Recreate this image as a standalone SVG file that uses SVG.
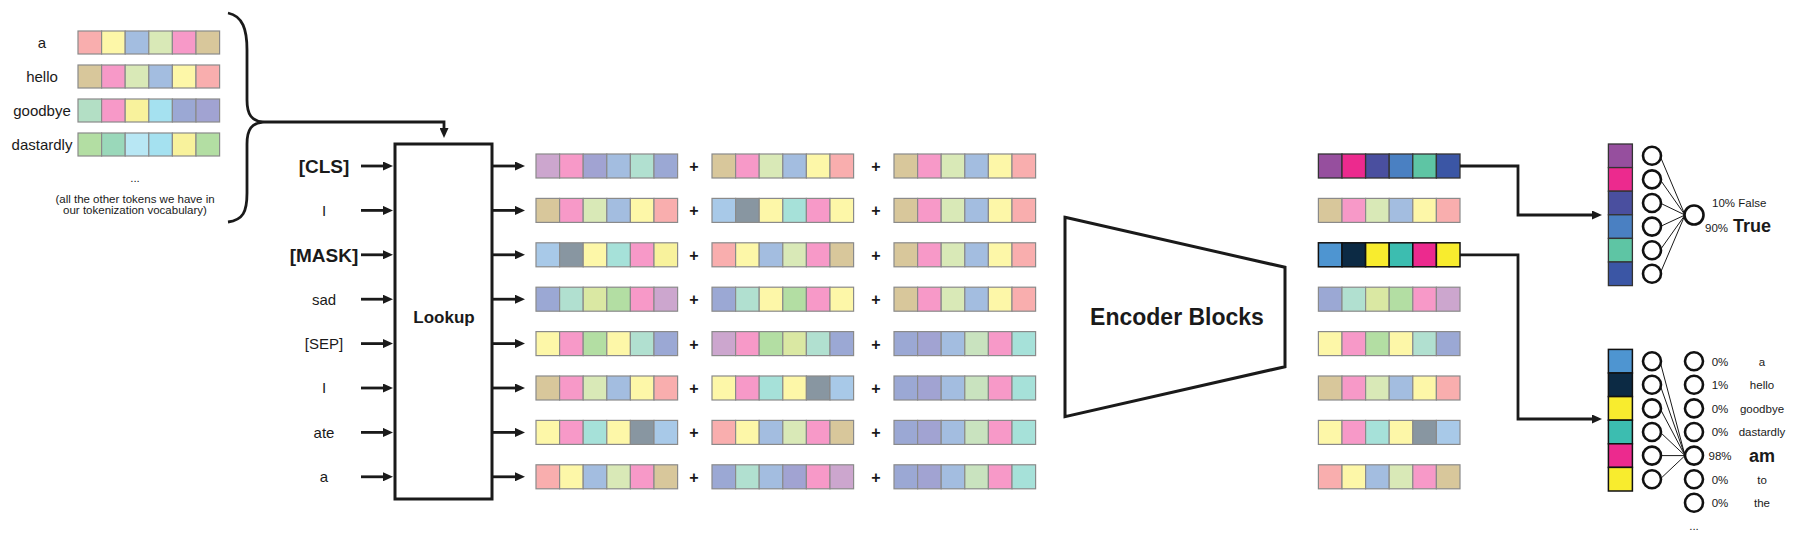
<svg xmlns="http://www.w3.org/2000/svg" width="1800" height="535" viewBox="0 0 1800 535">
<style>
text{font-family:"Liberation Sans",Arial,sans-serif;fill:#1a1a1a}
.lbl{font-size:15px;text-anchor:middle}
.big{font-size:19px;font-weight:bold;text-anchor:middle}
.sm{font-size:11.5px;text-anchor:middle}
.plus{font-size:16px;font-weight:bold;text-anchor:middle}
.cell rect{stroke:#8a8a8a;stroke-width:1.2}
.dark rect{stroke:#333;stroke-width:1.3}
.blk rect{stroke:#111;stroke-width:1.5}
.sal{fill:#f9aeae}.yel{fill:#fdf7a8}.blu{fill:#a3bde0}.lgr{fill:#d9e9b7}.pnk{fill:#f799c8}.tan{fill:#d8c79b}
.lav{fill:#cca6ce}.per{fill:#a1a3d2}.pe2{fill:#9ba8d4}.mnt{fill:#b1e0d0}.tea{fill:#a6e1d9}.sky{fill:#a8c9e8}
.sla{fill:#8896a1}.grn{fill:#b3dea3}.ygr{fill:#dae8a3}.y2{fill:#f8f29c}.cyn{fill:#a5e1f0}.lcy{fill:#b8e7f4}
.sea{fill:#9ad8ba}.mgr{fill:#b3dfc5}.lg2{fill:#c9e3bf}
.pur{fill:#964f9e}.mag{fill:#ec2a8e}.ind{fill:#4a4f9f}.bl2{fill:#4a80c2}.gr2{fill:#5ec5a4}.nav{fill:#3b56a5}
.bl3{fill:#4e95d1}.dnv{fill:#0c2a44}.ybr{fill:#f8ec2e}.tl2{fill:#3cbdb0}
.conn{fill:none;stroke:#1a1a1a;stroke-width:2.8}
.thin{fill:none;stroke:#1a1a1a;stroke-width:1}
.circ{fill:#fff;stroke:#111;stroke-width:2.6}
.box{fill:#fff;stroke:#1a1a1a;stroke-width:3}
</style>
<defs>
<marker id="ah" viewBox="0 0 10 9" refX="4" refY="4.5" markerWidth="10" markerHeight="9" markerUnits="userSpaceOnUse" orient="auto">
<path d="M0,0 L10,4.5 L0,9 z" fill="#1a1a1a"/>
</marker>
</defs>

<!-- vocabulary table -->
<g id="vocab">
<text class="lbl" x="42" y="48">a</text>
<text class="lbl" x="42" y="82">hello</text>
<text class="lbl" x="42" y="116">goodbye</text>
<text class="lbl" x="42" y="150">dastardly</text>
<g class="cell" transform="translate(78,31)"><rect class="sal" x="0" width="23.6" height="23"/><rect class="yel" x="23.6" width="23.6" height="23"/><rect class="blu" x="47.2" width="23.6" height="23"/><rect class="lgr" x="70.8" width="23.6" height="23"/><rect class="pnk" x="94.4" width="23.6" height="23"/><rect class="tan" x="118" width="23.6" height="23"/></g>
<g class="cell" transform="translate(78,65)"><rect class="tan" x="0" width="23.6" height="23"/><rect class="pnk" x="23.6" width="23.6" height="23"/><rect class="lgr" x="47.2" width="23.6" height="23"/><rect class="blu" x="70.8" width="23.6" height="23"/><rect class="yel" x="94.4" width="23.6" height="23"/><rect class="sal" x="118" width="23.6" height="23"/></g>
<g class="cell" transform="translate(78,99)"><rect class="mgr" x="0" width="23.6" height="23"/><rect class="pnk" x="23.6" width="23.6" height="23"/><rect class="y2" x="47.2" width="23.6" height="23"/><rect class="cyn" x="70.8" width="23.6" height="23"/><rect class="pe2" x="94.4" width="23.6" height="23"/><rect class="per" x="118" width="23.6" height="23"/></g>
<g class="cell" transform="translate(78,133)"><rect class="grn" x="0" width="23.6" height="23"/><rect class="sea" x="23.6" width="23.6" height="23"/><rect class="lcy" x="47.2" width="23.6" height="23"/><rect class="cyn" x="70.8" width="23.6" height="23"/><rect class="y2" x="94.4" width="23.6" height="23"/><rect class="grn" x="118" width="23.6" height="23"/></g>
<text class="sm" x="135" y="182">...</text>
<text class="sm" x="135" y="203">(all the other tokens we have in</text>
<text class="sm" x="135" y="214">our tokenization vocabulary)</text>
</g>

<!-- input tokens -->
<g id="tokens">
<text class="big" x="324" y="173">[CLS]</text>
<text class="lbl" x="324" y="216">I</text>
<text class="big" x="324" y="262">[MASK]</text>
<text class="lbl" x="324" y="305">sad</text>
<text class="lbl" x="324" y="349">[SEP]</text>
<text class="lbl" x="324" y="393">I</text>
<text class="lbl" x="324" y="438">ate</text>
<text class="lbl" x="324" y="482">a</text>
</g>

<g id="lookup">
<rect class="box" x="395" y="144" width="97" height="355"/>
<text x="444" y="323" style="font-size:17px;font-weight:bold;text-anchor:middle">Lookup</text>
</g>

<!-- token embeddings -->
<g id="token-emb">
<g class="cell" transform="translate(536,154)"><rect class="lav" x="0" width="23.6" height="24"/><rect class="pnk" x="23.6" width="23.6" height="24"/><rect class="per" x="47.2" width="23.6" height="24"/><rect class="blu" x="70.8" width="23.6" height="24"/><rect class="mnt" x="94.4" width="23.6" height="24"/><rect class="pe2" x="118" width="23.6" height="24"/></g>
<g class="cell" transform="translate(536,198.4)"><rect class="tan" x="0" width="23.6" height="24"/><rect class="pnk" x="23.6" width="23.6" height="24"/><rect class="lgr" x="47.2" width="23.6" height="24"/><rect class="blu" x="70.8" width="23.6" height="24"/><rect class="yel" x="94.4" width="23.6" height="24"/><rect class="sal" x="118" width="23.6" height="24"/></g>
<g class="cell" transform="translate(536,242.8)"><rect class="sky" x="0" width="23.6" height="24"/><rect class="sla" x="23.6" width="23.6" height="24"/><rect class="yel" x="47.2" width="23.6" height="24"/><rect class="tea" x="70.8" width="23.6" height="24"/><rect class="pnk" x="94.4" width="23.6" height="24"/><rect class="y2" x="118" width="23.6" height="24"/></g>
<g class="cell" transform="translate(536,287.2)"><rect class="pe2" x="0" width="23.6" height="24"/><rect class="mnt" x="23.6" width="23.6" height="24"/><rect class="ygr" x="47.2" width="23.6" height="24"/><rect class="grn" x="70.8" width="23.6" height="24"/><rect class="pnk" x="94.4" width="23.6" height="24"/><rect class="lav" x="118" width="23.6" height="24"/></g>
<g class="cell" transform="translate(536,331.6)"><rect class="yel" x="0" width="23.6" height="24"/><rect class="pnk" x="23.6" width="23.6" height="24"/><rect class="grn" x="47.2" width="23.6" height="24"/><rect class="yel" x="70.8" width="23.6" height="24"/><rect class="mnt" x="94.4" width="23.6" height="24"/><rect class="pe2" x="118" width="23.6" height="24"/></g>
<g class="cell" transform="translate(536,376)"><rect class="tan" x="0" width="23.6" height="24"/><rect class="pnk" x="23.6" width="23.6" height="24"/><rect class="lgr" x="47.2" width="23.6" height="24"/><rect class="blu" x="70.8" width="23.6" height="24"/><rect class="yel" x="94.4" width="23.6" height="24"/><rect class="sal" x="118" width="23.6" height="24"/></g>
<g class="cell" transform="translate(536,420.4)"><rect class="yel" x="0" width="23.6" height="24"/><rect class="pnk" x="23.6" width="23.6" height="24"/><rect class="tea" x="47.2" width="23.6" height="24"/><rect class="yel" x="70.8" width="23.6" height="24"/><rect class="sla" x="94.4" width="23.6" height="24"/><rect class="sky" x="118" width="23.6" height="24"/></g>
<g class="cell" transform="translate(536,464.8)"><rect class="sal" x="0" width="23.6" height="24"/><rect class="yel" x="23.6" width="23.6" height="24"/><rect class="blu" x="47.2" width="23.6" height="24"/><rect class="lgr" x="70.8" width="23.6" height="24"/><rect class="pnk" x="94.4" width="23.6" height="24"/><rect class="tan" x="118" width="23.6" height="24"/></g>
</g>

<g id="plus-signs">
<text class="plus" x="694" y="172">+</text><text class="plus" x="876" y="172">+</text>
<text class="plus" x="694" y="216.4">+</text><text class="plus" x="876" y="216.4">+</text>
<text class="plus" x="694" y="260.8">+</text><text class="plus" x="876" y="260.8">+</text>
<text class="plus" x="694" y="305.2">+</text><text class="plus" x="876" y="305.2">+</text>
<text class="plus" x="694" y="349.6">+</text><text class="plus" x="876" y="349.6">+</text>
<text class="plus" x="694" y="394">+</text><text class="plus" x="876" y="394">+</text>
<text class="plus" x="694" y="438.4">+</text><text class="plus" x="876" y="438.4">+</text>
<text class="plus" x="694" y="482.8">+</text><text class="plus" x="876" y="482.8">+</text>
</g>

<!-- position embeddings -->
<g id="position-emb">
<g class="cell" transform="translate(712,154)"><rect class="tan" x="0" width="23.6" height="24"/><rect class="pnk" x="23.6" width="23.6" height="24"/><rect class="lgr" x="47.2" width="23.6" height="24"/><rect class="blu" x="70.8" width="23.6" height="24"/><rect class="yel" x="94.4" width="23.6" height="24"/><rect class="sal" x="118" width="23.6" height="24"/></g>
<g class="cell" transform="translate(712,198.4)"><rect class="sky" x="0" width="23.6" height="24"/><rect class="sla" x="23.6" width="23.6" height="24"/><rect class="yel" x="47.2" width="23.6" height="24"/><rect class="tea" x="70.8" width="23.6" height="24"/><rect class="pnk" x="94.4" width="23.6" height="24"/><rect class="yel" x="118" width="23.6" height="24"/></g>
<g class="cell" transform="translate(712,242.8)"><rect class="sal" x="0" width="23.6" height="24"/><rect class="yel" x="23.6" width="23.6" height="24"/><rect class="blu" x="47.2" width="23.6" height="24"/><rect class="lgr" x="70.8" width="23.6" height="24"/><rect class="pnk" x="94.4" width="23.6" height="24"/><rect class="tan" x="118" width="23.6" height="24"/></g>
<g class="cell" transform="translate(712,287.2)"><rect class="pe2" x="0" width="23.6" height="24"/><rect class="mnt" x="23.6" width="23.6" height="24"/><rect class="yel" x="47.2" width="23.6" height="24"/><rect class="grn" x="70.8" width="23.6" height="24"/><rect class="pnk" x="94.4" width="23.6" height="24"/><rect class="yel" x="118" width="23.6" height="24"/></g>
<g class="cell" transform="translate(712,331.6)"><rect class="lav" x="0" width="23.6" height="24"/><rect class="pnk" x="23.6" width="23.6" height="24"/><rect class="grn" x="47.2" width="23.6" height="24"/><rect class="ygr" x="70.8" width="23.6" height="24"/><rect class="mnt" x="94.4" width="23.6" height="24"/><rect class="pe2" x="118" width="23.6" height="24"/></g>
<g class="cell" transform="translate(712,376)"><rect class="yel" x="0" width="23.6" height="24"/><rect class="pnk" x="23.6" width="23.6" height="24"/><rect class="tea" x="47.2" width="23.6" height="24"/><rect class="yel" x="70.8" width="23.6" height="24"/><rect class="sla" x="94.4" width="23.6" height="24"/><rect class="sky" x="118" width="23.6" height="24"/></g>
<g class="cell" transform="translate(712,420.4)"><rect class="sal" x="0" width="23.6" height="24"/><rect class="yel" x="23.6" width="23.6" height="24"/><rect class="blu" x="47.2" width="23.6" height="24"/><rect class="lgr" x="70.8" width="23.6" height="24"/><rect class="pnk" x="94.4" width="23.6" height="24"/><rect class="tan" x="118" width="23.6" height="24"/></g>
<g class="cell" transform="translate(712,464.8)"><rect class="pe2" x="0" width="23.6" height="24"/><rect class="mnt" x="23.6" width="23.6" height="24"/><rect class="blu" x="47.2" width="23.6" height="24"/><rect class="per" x="70.8" width="23.6" height="24"/><rect class="pnk" x="94.4" width="23.6" height="24"/><rect class="lav" x="118" width="23.6" height="24"/></g>
</g>

<!-- segment embeddings -->
<g id="segment-emb">
<g class="cell" transform="translate(894,154)"><rect class="tan" x="0" width="23.6" height="24"/><rect class="pnk" x="23.6" width="23.6" height="24"/><rect class="lgr" x="47.2" width="23.6" height="24"/><rect class="blu" x="70.8" width="23.6" height="24"/><rect class="yel" x="94.4" width="23.6" height="24"/><rect class="sal" x="118" width="23.6" height="24"/></g>
<g class="cell" transform="translate(894,198.4)"><rect class="tan" x="0" width="23.6" height="24"/><rect class="pnk" x="23.6" width="23.6" height="24"/><rect class="lgr" x="47.2" width="23.6" height="24"/><rect class="blu" x="70.8" width="23.6" height="24"/><rect class="yel" x="94.4" width="23.6" height="24"/><rect class="sal" x="118" width="23.6" height="24"/></g>
<g class="cell" transform="translate(894,242.8)"><rect class="tan" x="0" width="23.6" height="24"/><rect class="pnk" x="23.6" width="23.6" height="24"/><rect class="lgr" x="47.2" width="23.6" height="24"/><rect class="blu" x="70.8" width="23.6" height="24"/><rect class="yel" x="94.4" width="23.6" height="24"/><rect class="sal" x="118" width="23.6" height="24"/></g>
<g class="cell" transform="translate(894,287.2)"><rect class="tan" x="0" width="23.6" height="24"/><rect class="pnk" x="23.6" width="23.6" height="24"/><rect class="lgr" x="47.2" width="23.6" height="24"/><rect class="blu" x="70.8" width="23.6" height="24"/><rect class="yel" x="94.4" width="23.6" height="24"/><rect class="sal" x="118" width="23.6" height="24"/></g>
<g class="cell" transform="translate(894,331.6)"><rect class="pe2" x="0" width="23.6" height="24"/><rect class="per" x="23.6" width="23.6" height="24"/><rect class="blu" x="47.2" width="23.6" height="24"/><rect class="lg2" x="70.8" width="23.6" height="24"/><rect class="pnk" x="94.4" width="23.6" height="24"/><rect class="tea" x="118" width="23.6" height="24"/></g>
<g class="cell" transform="translate(894,376)"><rect class="pe2" x="0" width="23.6" height="24"/><rect class="per" x="23.6" width="23.6" height="24"/><rect class="blu" x="47.2" width="23.6" height="24"/><rect class="lg2" x="70.8" width="23.6" height="24"/><rect class="pnk" x="94.4" width="23.6" height="24"/><rect class="tea" x="118" width="23.6" height="24"/></g>
<g class="cell" transform="translate(894,420.4)"><rect class="pe2" x="0" width="23.6" height="24"/><rect class="per" x="23.6" width="23.6" height="24"/><rect class="blu" x="47.2" width="23.6" height="24"/><rect class="lg2" x="70.8" width="23.6" height="24"/><rect class="pnk" x="94.4" width="23.6" height="24"/><rect class="tea" x="118" width="23.6" height="24"/></g>
<g class="cell" transform="translate(894,464.8)"><rect class="pe2" x="0" width="23.6" height="24"/><rect class="per" x="23.6" width="23.6" height="24"/><rect class="blu" x="47.2" width="23.6" height="24"/><rect class="lg2" x="70.8" width="23.6" height="24"/><rect class="pnk" x="94.4" width="23.6" height="24"/><rect class="tea" x="118" width="23.6" height="24"/></g>
</g>

<g id="encoder">
<path class="box" d="M1065,217.3 L1285,267.3 L1285,366.7 L1065,416.7 Z"/>
<text x="1177" y="325" style="font-size:23px;font-weight:bold;text-anchor:middle">Encoder Blocks</text>
</g>

<!-- outputs -->
<g id="outputs">
<g class="dark" transform="translate(1318.4,154)"><rect class="pur" x="0" width="23.6" height="24"/><rect class="mag" x="23.6" width="23.6" height="24"/><rect class="ind" x="47.2" width="23.6" height="24"/><rect class="bl2" x="70.8" width="23.6" height="24"/><rect class="gr2" x="94.4" width="23.6" height="24"/><rect class="nav" x="118" width="23.6" height="24"/></g>
<g class="cell" transform="translate(1318.4,198.4)"><rect class="tan" x="0" width="23.6" height="24"/><rect class="pnk" x="23.6" width="23.6" height="24"/><rect class="lgr" x="47.2" width="23.6" height="24"/><rect class="blu" x="70.8" width="23.6" height="24"/><rect class="yel" x="94.4" width="23.6" height="24"/><rect class="sal" x="118" width="23.6" height="24"/></g>
<g class="blk" transform="translate(1318.4,242.8)"><rect class="bl3" x="0" width="23.6" height="24"/><rect class="dnv" x="23.6" width="23.6" height="24"/><rect class="ybr" x="47.2" width="23.6" height="24"/><rect class="tl2" x="70.8" width="23.6" height="24"/><rect class="mag" x="94.4" width="23.6" height="24"/><rect class="ybr" x="118" width="23.6" height="24"/></g>
<g class="cell" transform="translate(1318.4,287.2)"><rect class="pe2" x="0" width="23.6" height="24"/><rect class="mnt" x="23.6" width="23.6" height="24"/><rect class="ygr" x="47.2" width="23.6" height="24"/><rect class="grn" x="70.8" width="23.6" height="24"/><rect class="pnk" x="94.4" width="23.6" height="24"/><rect class="lav" x="118" width="23.6" height="24"/></g>
<g class="cell" transform="translate(1318.4,331.6)"><rect class="yel" x="0" width="23.6" height="24"/><rect class="pnk" x="23.6" width="23.6" height="24"/><rect class="grn" x="47.2" width="23.6" height="24"/><rect class="yel" x="70.8" width="23.6" height="24"/><rect class="mnt" x="94.4" width="23.6" height="24"/><rect class="pe2" x="118" width="23.6" height="24"/></g>
<g class="cell" transform="translate(1318.4,376)"><rect class="tan" x="0" width="23.6" height="24"/><rect class="pnk" x="23.6" width="23.6" height="24"/><rect class="lgr" x="47.2" width="23.6" height="24"/><rect class="blu" x="70.8" width="23.6" height="24"/><rect class="yel" x="94.4" width="23.6" height="24"/><rect class="sal" x="118" width="23.6" height="24"/></g>
<g class="cell" transform="translate(1318.4,420.4)"><rect class="yel" x="0" width="23.6" height="24"/><rect class="pnk" x="23.6" width="23.6" height="24"/><rect class="tea" x="47.2" width="23.6" height="24"/><rect class="yel" x="70.8" width="23.6" height="24"/><rect class="sla" x="94.4" width="23.6" height="24"/><rect class="sky" x="118" width="23.6" height="24"/></g>
<g class="cell" transform="translate(1318.4,464.8)"><rect class="sal" x="0" width="23.6" height="24"/><rect class="yel" x="23.6" width="23.6" height="24"/><rect class="blu" x="47.2" width="23.6" height="24"/><rect class="lgr" x="70.8" width="23.6" height="24"/><rect class="pnk" x="94.4" width="23.6" height="24"/><rect class="tan" x="118" width="23.6" height="24"/></g>
</g>

<!-- NSP head -->
<g id="nsp-head">
<g class="dark" transform="translate(1608.4,144)"><rect class="pur" y="0" width="24" height="23.6"/><rect class="mag" y="23.6" width="24" height="23.6"/><rect class="ind" y="47.2" width="24" height="23.6"/><rect class="bl2" y="70.8" width="24" height="23.6"/><rect class="gr2" y="94.4" width="24" height="23.6"/><rect class="nav" y="118" width="24" height="23.6"/></g>
<path class="thin" d="M1660,155.8 L1685,215 M1660,179.4 L1685,215 M1660,203 L1685,215 M1660,226.6 L1685,215 M1660,250.2 L1685,215 M1660,273.8 L1685,215"/>
<circle class="circ" cx="1652" cy="155.8" r="9"/><circle class="circ" cx="1652" cy="179.4" r="9"/><circle class="circ" cx="1652" cy="203" r="9"/><circle class="circ" cx="1652" cy="226.6" r="9"/><circle class="circ" cx="1652" cy="250.2" r="9"/><circle class="circ" cx="1652" cy="273.8" r="9"/>
<circle class="circ" cx="1694" cy="215" r="9.5"/>
<text x="1712" y="207" style="font-size:11.5px">10% False</text>
<text x="1705" y="232" style="font-size:11.5px">90%</text>
<text x="1733" y="232" style="font-size:18px;font-weight:bold">True</text>
</g>

<!-- MLM head -->
<g id="mlm-head">
<g class="blk" transform="translate(1608.4,349.4)"><rect class="bl3" y="0" width="24" height="23.6"/><rect class="dnv" y="23.6" width="24" height="23.6"/><rect class="ybr" y="47.2" width="24" height="23.6"/><rect class="tl2" y="70.8" width="24" height="23.6"/><rect class="mag" y="94.4" width="24" height="23.6"/><rect class="ybr" y="118" width="24" height="23.6"/></g>
<path class="thin" d="M1660,361.2 L1685,455.6 M1660,384.8 L1685,455.6 M1660,408.4 L1685,455.6 M1660,432 L1685,455.6 M1660,455.6 L1685,455.6 M1660,479.2 L1685,455.6"/>
<circle class="circ" cx="1652" cy="361.2" r="9"/><circle class="circ" cx="1652" cy="384.8" r="9"/><circle class="circ" cx="1652" cy="408.4" r="9"/><circle class="circ" cx="1652" cy="432" r="9"/><circle class="circ" cx="1652" cy="455.6" r="9"/><circle class="circ" cx="1652" cy="479.2" r="9"/>
<circle class="circ" cx="1694" cy="361.2" r="9"/><circle class="circ" cx="1694" cy="384.8" r="9"/><circle class="circ" cx="1694" cy="408.4" r="9"/><circle class="circ" cx="1694" cy="432" r="9"/><circle class="circ" cx="1694" cy="455.6" r="9"/><circle class="circ" cx="1694" cy="479.2" r="9"/><circle class="circ" cx="1694" cy="502.8" r="9"/>
<text class="sm" x="1720" y="365.5">0%</text><text class="sm" x="1762" y="365.5">a</text>
<text class="sm" x="1720" y="389">1%</text><text class="sm" x="1762" y="389">hello</text>
<text class="sm" x="1720" y="412.5">0%</text><text class="sm" x="1762" y="412.5">goodbye</text>
<text class="sm" x="1720" y="436">0%</text><text class="sm" x="1762" y="436">dastardly</text>
<text class="sm" x="1720" y="459.8">98%</text><text x="1762" y="461.5" style="font-size:18px;font-weight:bold;text-anchor:middle">am</text>
<text class="sm" x="1720" y="483.5">0%</text><text class="sm" x="1762" y="483.5">to</text>
<text class="sm" x="1720" y="507">0%</text><text class="sm" x="1762" y="507">the</text>
<text class="sm" x="1694" y="530">...</text>
</g>

<!-- connectors -->
<g id="connectors">
<path class="conn" d="M228,13 C243,16 247,30 247,50 L247,100 C247,115 252,121 263,122 C252,123 247,129 247,144 L247,193 C247,212 243,220 228,222"/>
<path class="conn" d="M263,122 L444,122 L444,132" marker-end="url(#ah)"/>
<line class="conn" x1="361" y1="166" x2="387" y2="166" marker-end="url(#ah)"/>
<line class="conn" x1="361" y1="210.4" x2="387" y2="210.4" marker-end="url(#ah)"/>
<line class="conn" x1="361" y1="254.8" x2="387" y2="254.8" marker-end="url(#ah)"/>
<line class="conn" x1="361" y1="299.2" x2="387" y2="299.2" marker-end="url(#ah)"/>
<line class="conn" x1="361" y1="343.6" x2="387" y2="343.6" marker-end="url(#ah)"/>
<line class="conn" x1="361" y1="388" x2="387" y2="388" marker-end="url(#ah)"/>
<line class="conn" x1="361" y1="432.4" x2="387" y2="432.4" marker-end="url(#ah)"/>
<line class="conn" x1="361" y1="476.8" x2="387" y2="476.8" marker-end="url(#ah)"/>
<line class="conn" x1="492" y1="166" x2="519" y2="166" marker-end="url(#ah)"/>
<line class="conn" x1="492" y1="210.4" x2="519" y2="210.4" marker-end="url(#ah)"/>
<line class="conn" x1="492" y1="254.8" x2="519" y2="254.8" marker-end="url(#ah)"/>
<line class="conn" x1="492" y1="299.2" x2="519" y2="299.2" marker-end="url(#ah)"/>
<line class="conn" x1="492" y1="343.6" x2="519" y2="343.6" marker-end="url(#ah)"/>
<line class="conn" x1="492" y1="388" x2="519" y2="388" marker-end="url(#ah)"/>
<line class="conn" x1="492" y1="432.4" x2="519" y2="432.4" marker-end="url(#ah)"/>
<line class="conn" x1="492" y1="476.8" x2="519" y2="476.8" marker-end="url(#ah)"/>
<path class="conn" d="M1460,166 L1518,166 L1518,215 L1596,215" marker-end="url(#ah)"/>
<path class="conn" d="M1460,254.8 L1518,254.8 L1518,419 L1596,419" marker-end="url(#ah)"/>
</g>
</svg>
